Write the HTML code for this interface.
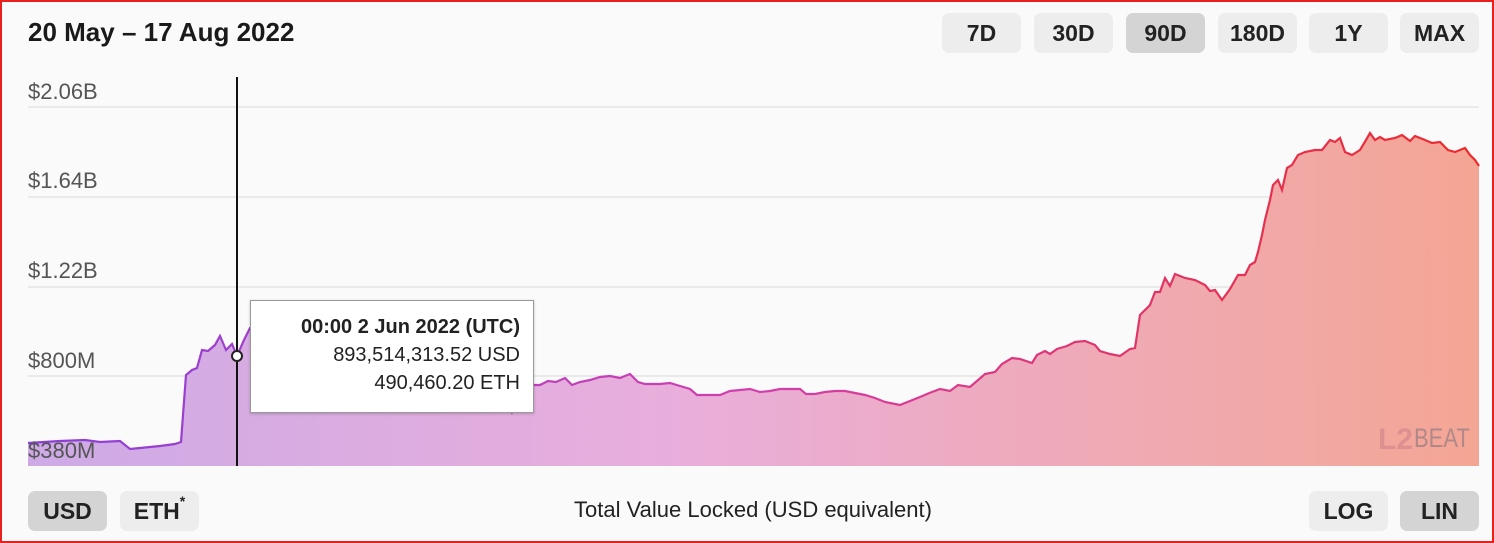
<!DOCTYPE html>
<html><head><meta charset="utf-8"><style>
*{margin:0;padding:0;box-sizing:border-box}
body{width:1494px;height:543px;background:#fafafa;font-family:"Liberation Sans",sans-serif;position:relative;overflow:hidden;color:#222}
.frame{position:absolute;left:0;top:0;width:1494px;height:543px;border:2px solid #e82020}
.t{position:absolute;left:28px;top:17px;font-size:26px;font-weight:bold;color:#1a1a1a}
.b{position:absolute;height:40px;width:79px;background:#ededed;border-radius:7px;font-size:23px;font-weight:bold;text-align:center;line-height:40px;color:#222}
.s{background:#d4d4d4}
.yl{position:absolute;left:28px;font-size:22px;color:#555}
.tt{position:absolute;left:250px;top:300px;width:284px;height:113px;background:#fff;border:1px solid #999;box-shadow:0 1px 3px rgba(0,0,0,.2);font-size:20px;text-align:right;padding:12px 13px 0 0;line-height:28px}
</style></head><body>
<div class="t">20 May – 17 Aug 2022</div>
<div class="b" style="left:942px;top:13px">7D</div>
<div class="b" style="left:1034px;top:13px">30D</div>
<div class="b s" style="left:1126px;top:13px">90D</div>
<div class="b" style="left:1218px;top:13px">180D</div>
<div class="b" style="left:1309px;top:13px">1Y</div>
<div class="b" style="left:1400px;top:13px">MAX</div>
<svg width="1494" height="543" style="position:absolute;left:0;top:0">
<defs>
<linearGradient id="st" x1="28" x2="1479" gradientUnits="userSpaceOnUse"><stop offset="0" stop-color="#8a3fd8"/><stop offset="0.5" stop-color="#d23fae"/><stop offset="1" stop-color="#ee2a2a"/></linearGradient>
<linearGradient id="fl" x1="28" x2="1479" gradientUnits="userSpaceOnUse"><stop offset="0" stop-color="#cdaae6"/><stop offset="0.45" stop-color="#e9aedb"/><stop offset="1" stop-color="#f4a694"/></linearGradient>
</defs>
<g stroke="#e4e4e4" stroke-width="1.5"><line x1="28" x2="1479" y1="107" y2="107"/><line x1="28" x2="1479" y1="197" y2="197"/><line x1="28" x2="1479" y1="287" y2="287"/><line x1="28" x2="1479" y1="376" y2="376"/></g>
<path id="p" fill="url(#fl)" d="M28,443 L60,441 85,440 100,442 120,441 130,449 140,448 150,447 160,446 175,444 181,442 186,375 192,370 197,368 202,350 208,351 215,345 220,336 226,350 232,344 237,356 244,340 250,328 270,322 300,335 340,345 380,355 420,362 460,370 500,380 512,412 520,395 533,385 540,385 548,381 556,382 565,378 572,385 580,382 590,380 600,377 610,376 620,378 630,374 638,382 645,384 660,384 670,383 680,386 690,389 697,395 710,395 720,395 730,391 750,389 760,392 770,391 780,389 790,389 800,389 806,394 815,394 825,392 835,391 845,391 855,393 865,395 875,398 880,400 885,402 890,403 900,405 910,401 920,397 927,394 932,392 940,389 950,391 958,385 970,387 985,374 995,372 1002,364 1012,358 1020,359 1032,363 1037,355 1045,351 1050,354 1057,349 1067,346 1075,342 1085,341 1095,345 1100,351 1110,354 1120,356 1130,349 1135,348 1140,315 1145,310 1150,305 1155,292 1160,292 1165,278 1170,286 1175,274 1185,278 1195,280 1205,285 1210,291 1215,290 1222,300 1230,289 1238,275 1245,275 1250,265 1255,262 1258,252 1262,235 1265,220 1270,200 1273,185 1278,180 1282,190 1287,168 1292,165 1298,155 1305,152 1315,150 1322,150 1330,140 1335,142 1340,138 1345,152 1352,155 1360,150 1366,140 1370,133 1375,140 1380,137 1385,140 1395,138 1402,135 1410,141 1415,136 1425,140 1432,143 1440,142 1448,150 1455,152 1460,150 1465,148 1470,155 1475,160 1479,166 L1479,466 L28,466Z"/>
<path fill="none" stroke="url(#st)" stroke-width="2.2" d="M28,443 L60,441 85,440 100,442 120,441 130,449 140,448 150,447 160,446 175,444 181,442 186,375 192,370 197,368 202,350 208,351 215,345 220,336 226,350 232,344 237,356 244,340 250,328 270,322 300,335 340,345 380,355 420,362 460,370 500,380 512,412 520,395 533,385 540,385 548,381 556,382 565,378 572,385 580,382 590,380 600,377 610,376 620,378 630,374 638,382 645,384 660,384 670,383 680,386 690,389 697,395 710,395 720,395 730,391 750,389 760,392 770,391 780,389 790,389 800,389 806,394 815,394 825,392 835,391 845,391 855,393 865,395 875,398 880,400 885,402 890,403 900,405 910,401 920,397 927,394 932,392 940,389 950,391 958,385 970,387 985,374 995,372 1002,364 1012,358 1020,359 1032,363 1037,355 1045,351 1050,354 1057,349 1067,346 1075,342 1085,341 1095,345 1100,351 1110,354 1120,356 1130,349 1135,348 1140,315 1145,310 1150,305 1155,292 1160,292 1165,278 1170,286 1175,274 1185,278 1195,280 1205,285 1210,291 1215,290 1222,300 1230,289 1238,275 1245,275 1250,265 1255,262 1258,252 1262,235 1265,220 1270,200 1273,185 1278,180 1282,190 1287,168 1292,165 1298,155 1305,152 1315,150 1322,150 1330,140 1335,142 1340,138 1345,152 1352,155 1360,150 1366,140 1370,133 1375,140 1380,137 1385,140 1395,138 1402,135 1410,141 1415,136 1425,140 1432,143 1440,142 1448,150 1455,152 1460,150 1465,148 1470,155 1475,160 1479,166"/>
<line x1="237" x2="237" y1="77" y2="466" stroke="#111" stroke-width="2"/>
<circle cx="237" cy="356" r="5" fill="#fff" stroke="#222" stroke-width="2"/>
<text x="1378" y="449" font-family="Liberation Sans,sans-serif" font-size="30" font-weight="bold" fill="#d98a8f" opacity="0.8">L2</text>
<text x="1414" y="447" font-family="Liberation Sans,sans-serif" font-size="22" fill="#b08888" transform="scale(1,1.2)" transform-origin="1414 447">BEAT</text>
</svg>
<div class="yl" style="top:79px">$2.06B</div>
<div class="yl" style="top:168px">$1.64B</div>
<div class="yl" style="top:258px">$1.22B</div>
<div class="yl" style="top:348px">$800M</div>
<div class="yl" style="top:438px">$380M</div>
<div class="tt"><b>00:00 2 Jun 2022 (UTC)</b><br>893,514,313.52 USD<br>490,460.20 ETH</div>
<div class="b s" style="left:28px;top:491px">USD</div>
<div class="b" style="left:120px;top:491px">ETH<sup style="font-size:14px;vertical-align:top;line-height:20px">*</sup></div>
<div style="position:absolute;left:0;width:1506px;top:497px;text-align:center;font-size:22px;color:#222">Total Value Locked (USD equivalent)</div>
<div class="b" style="left:1309px;top:491px">LOG</div>
<div class="b s" style="left:1400px;top:491px">LIN</div>
<div class="frame"></div>
</body></html>
